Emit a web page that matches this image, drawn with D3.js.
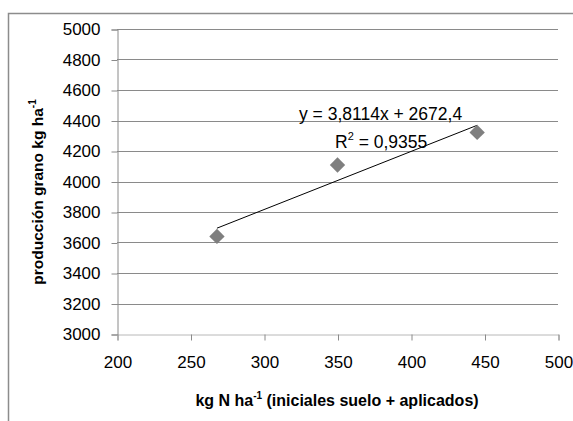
<!DOCTYPE html>
<html>
<head>
<meta charset="utf-8">
<script src="https://cdn.jsdelivr.net/npm/d3@7"></script>
<style>
  body { margin: 0; background: #fff; }
  svg { display: block; font-family: "Liberation Sans", Arial, sans-serif; }
</style>
</head>
<body>
<svg id="chart" width="573" height="421"></svg>
<script>
/* ===== DATA ===== */
const nitrogen = [268, 350, 445];
const grainYield = [3640, 4108, 4322];
const slope = 3.8114;
const intercept = 2672.4;
const xTicks = [200, 250, 300, 350, 400, 450, 500];
const yTicks = [3000, 3200, 3400, 3600, 3800, 4000, 4200, 4400, 4600, 4800, 5000];

/* ===== SETUP ===== */
const svg = d3.select("#chart");
const plotLeft = 117, plotRight = 558, plotTop = 29, plotBottom = 334;

const x = d3.scaleLinear().domain([200, 500]).range([plotLeft, plotRight]);
const y = d3.scaleLinear().domain([3000, 5000]).range([plotBottom, plotTop]);

// outer chart border (continues past right/bottom edge)
svg.append("path")
  .attr("d", "M8.5,421 V13.5 H573")
  .attr("fill", "none")
  .attr("stroke", "#8c8c8c")
  .attr("stroke-width", 1.5);

/* ===== GRID ===== */
svg.append("g")
  .selectAll("line")
  .data(yTicks.slice(1))
  .join("line")
  .attr("x1", plotLeft).attr("x2", plotRight)
  .attr("y1", d => Math.round(y(d)) + 0.5)
  .attr("y2", d => Math.round(y(d)) + 0.5)
  .attr("stroke", "#8a8a8a");

/* ===== AXES ===== */
const yAxis = svg.append("g")
  .attr("transform", `translate(${plotLeft + 0.5},0.5)`)
  .call(d3.axisLeft(y).tickValues(yTicks).tickSize(6).tickPadding(11).tickFormat(d3.format("d")));
yAxis.select(".domain").attr("stroke", "#8a8a8a");
yAxis.selectAll(".tick line").attr("stroke", "#8a8a8a");
yAxis.selectAll("text")
  .attr("font-size", 17)
  .attr("fill", "#000")
  .attr("font-family", "Liberation Sans, Arial, sans-serif");

const xAxis = svg.append("g")
  .attr("transform", `translate(0.5,${plotBottom + 0.5})`)
  .call(d3.axisBottom(x).tickValues(xTicks).tickSize(6).tickPadding(15).tickFormat(d3.format("d")));
xAxis.select(".domain").attr("stroke", "#b8b8b8");
xAxis.selectAll(".tick line").attr("stroke", "#8a8a8a");
xAxis.selectAll("text")
  .attr("font-size", 17)
  .attr("fill", "#000")
  .attr("font-family", "Liberation Sans, Arial, sans-serif");

/* ===== TRENDLINE ===== */
const xMin = d3.min(nitrogen), xMax = d3.max(nitrogen);
svg.append("line")
  .attr("x1", x(xMin)).attr("y1", y(slope * xMin + intercept))
  .attr("x2", x(xMax)).attr("y2", y(slope * xMax + intercept))
  .attr("stroke", "#000")
  .attr("stroke-width", 1);

/* ===== POINTS ===== */
svg.append("g")
  .selectAll("path")
  .data(d3.zip(nitrogen, grainYield))
  .join("path")
  .attr("d", d3.symbol(d3.symbolDiamond2, 150))
  .attr("transform", d => `translate(${x(d[0])},${y(d[1])})`)
  .attr("fill", "#7f7f7f");

/* ===== ANNOTATIONS ===== */
svg.append("text")
  .attr("x", 299).attr("y", 120)
  .attr("font-size", 17.5)
  .text("y = 3,8114x + 2672,4");

const r2 = svg.append("text")
  .attr("x", 335).attr("y", 148)
  .attr("font-size", 17.5);
r2.append("tspan").text("R");
r2.append("tspan").attr("font-size", 11).attr("dy", -8).text("2");
r2.append("tspan").attr("dy", 8).text(" = 0,9355");

/* ===== TITLES ===== */
const xt = svg.append("text")
  .attr("x", 337).attr("y", 406)
  .attr("text-anchor", "middle")
  .attr("font-size", 16)
  .attr("font-weight", "bold");
xt.append("tspan").text("kg N ha");
xt.append("tspan").attr("font-size", 10).attr("dy", -7).text("-1");
xt.append("tspan").attr("dy", 7).text(" (iniciales suelo + aplicados)");

const yt = svg.append("text")
  .attr("transform", "translate(43,192) rotate(-90)")
  .attr("text-anchor", "middle")
  .attr("font-size", 15.5)
  .attr("font-weight", "bold");
yt.append("tspan").text("producción grano kg ha");
yt.append("tspan").attr("font-size", 10).attr("dy", -7).text("-1");
</script>
</body>
</html>
